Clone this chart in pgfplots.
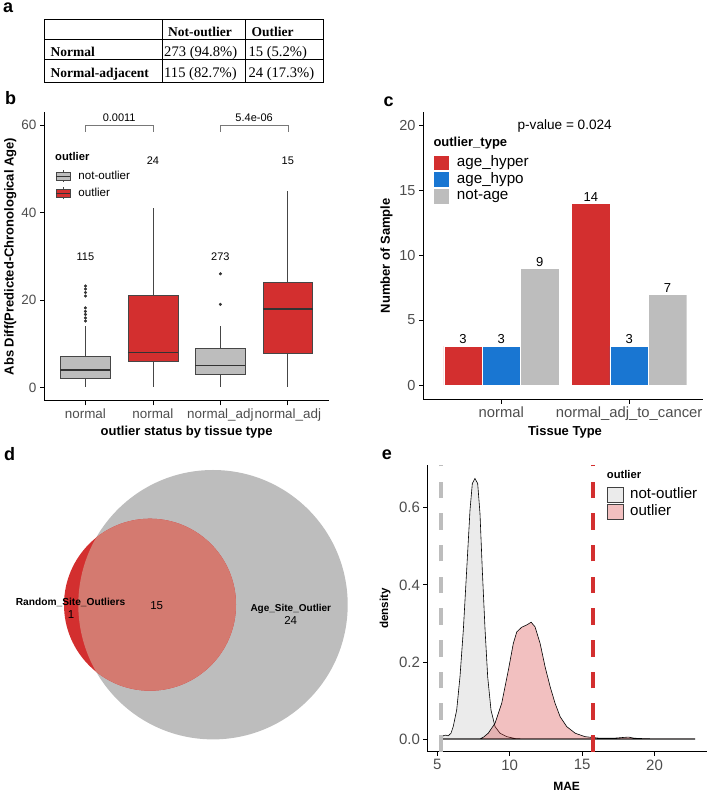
\documentclass[border=0pt]{standalone}
\usepackage{pgfplots}
\pgfplotsset{compat=1.18}
\usepgfplotslibrary{statistics}
\usepackage{fontspec}
\setmainfont{Liberation Sans}
\newfontfamily\tnr{Liberation Serif}
\definecolor{myred}{RGB}{211,47,47}
\definecolor{myblue}{RGB}{25,118,210}
\definecolor{mygray}{RGB}{189,189,189}
\definecolor{tickgray}{RGB}{77,77,77}
\definecolor{boxedge}{RGB}{70,70,70}
\definecolor{salmon}{RGB}{212,122,112}
\definecolor{brk}{RGB}{120,120,120}
\newcommand\fs[1]{\fontsize{#1pt}{#1pt}\selectfont}
\pgfplotsset{gg/.style={
  scale only axis, clip=false,
  axis x line*=bottom, axis y line*=left,
  axis line style={black, line width=1pt},
  tick align=outside, major tick length=4.3pt,
  every tick/.style={black, line width=0.8pt},
  tick label style={text=tickgray},
  /pgf/number format/assume math mode=true,
  label style={font=\fs{13}\bfseries, text=black},
},
boxkey/.style={legend image code/.code={
   \draw[draw=boxedge, line width=0.6pt] (7pt,-6pt)--(7pt,6pt);
   \draw[fill=#1, draw=boxedge, line width=0.6pt] (0pt,-3.8pt) rectangle (14pt,3.8pt);
   \draw[draw=black!80, line width=1.2pt] (0pt,0pt)--(14pt,0pt);}},
ggbox/.style={forget plot, mark=*, mark size=1.35pt, mark options={draw=black!80, fill=black!80}},
/pgfplots/boxplot/every median/.style={draw=black!80, line width=1.6pt},
/pgfplots/boxplot/every whisker/.style={draw=boxedge, line width=0.7pt},
}
\begin{document}
\begin{tikzpicture}
\useasboundingbox (0pt,0pt) rectangle (709pt,792pt);
% ---------------- panel a: table
\draw[line width=0.9pt] (44pt,710pt) rectangle (323pt,773pt);
\draw[line width=0.9pt] (44pt,752.7pt) -- (323pt,752.7pt);
\draw[line width=0.9pt] (44pt,732.7pt) -- (323pt,732.7pt);
\draw[line width=0.9pt] (162pt,710pt) -- (162pt,773pt);
\draw[line width=0.9pt] (245pt,710pt) -- (245pt,773pt);
\begin{scope}[every node/.style={inner sep=0pt, anchor=base west}]
\node[font=\tnr\fs{13.5}\bfseries] at (168pt,755.5pt) {Not-outlier};
\node[font=\tnr\fs{13.5}\bfseries] at (251.5pt,755.5pt) {Outlier};
\node[font=\tnr\fs{13.5}\bfseries] at (50.5pt,735pt) {Normal};
\node[font=\tnr\fs{13.5}\bfseries] at (50.5pt,714.7pt) {Normal-adjacent};
\node[font=\tnr\fs{14.6}] at (164pt,735pt) {273 (94.8\%)};
\node[font=\tnr\fs{14.6}] at (248.3pt,735pt) {15 (5.2\%)};
\node[font=\tnr\fs{14.6}] at (164pt,714.7pt) {115 (82.7\%)};
\node[font=\tnr\fs{14.6}] at (248.3pt,714.7pt) {24 (17.3\%)};
\node[font=\fs{18}\bfseries] at (3pt,779pt) {a};
\node[font=\fs{18}\bfseries] at (5pt,687pt) {b};
\node[font=\fs{18}\bfseries] at (383.3pt,685.3pt) {c};
\node[font=\fs{18}\bfseries] at (4pt,331.3pt) {d};
\node[font=\fs{18}\bfseries] at (381.7pt,332pt) {e};
\node[font=\fs{11.2}\bfseries] at (55pt,631.9pt) {outlier};
\node[font=\fs{13}\bfseries] at (433.3pt,645.3pt) {outlier\_type};
\node[font=\fs{11.2}\bfseries] at (606.7pt,313.7pt) {outlier};
\end{scope}
% ---------------- panel b: boxplots
\begin{axis}[gg, at={(44.3pt,391pt)}, anchor=south west, width=284.7pt, height=289pt,
  xmin=0.39, xmax=4.61, ymin=-3.1, ymax=63,
  xtick={1,2,3,4}, xticklabels={normal,normal,normal\_adj,normal\_adj},
  ytick={0,20,40,60},
  xticklabel style={font=\fs{13.4}}, yticklabel style={font=\fs{13.5}},
  xlabel={outlier status by tissue type},
  ylabel={Abs Diff(Predicted-Chronological Age)},
  xlabel style={at={(axis description cs:0.5,-0.107)}, anchor=center},
  ylabel style={at={(axis description cs:-0.1194,0.5)}, anchor=center},
  legend style={draw=none, fill=none, inner sep=0pt, at={(axis description cs:0.0376,0.8003)}, anchor=north west, font=\fs{11.6}, row sep=4.6pt, nodes={inner sep=0pt, text height=8.5pt, text depth=2.5pt}, /tikz/every odd column/.append style={column sep=8pt}},
  legend cell align=left,
]
\addlegendimage{boxkey=mygray}\addlegendentry{not-outlier}
\addlegendimage{boxkey=myred}\addlegendentry{outlier}
\addplot[ggbox, boxplot prepared={draw direction=y, draw position=1, box extend=0.74, whisker extend=0,
   lower whisker=0, lower quartile=2, median=4, upper quartile=7, upper whisker=14,
   every box/.style={draw=boxedge, fill=mygray, line width=0.7pt}}]
   table[row sep=\\, y index=0]{y\\15.2\\15.9\\16.7\\17.4\\18.2\\20.9\\21.7\\22.5\\23.2\\};
\addplot[ggbox, boxplot prepared={draw direction=y, draw position=2, box extend=0.74, whisker extend=0,
   lower whisker=0, lower quartile=6, median=8, upper quartile=21, upper whisker=41,
   every box/.style={draw=boxedge, fill=myred, line width=0.7pt}}]
   coordinates {};
\addplot[ggbox, boxplot prepared={draw direction=y, draw position=3, box extend=0.74, whisker extend=0,
   lower whisker=0, lower quartile=3, median=5, upper quartile=9, upper whisker=14,
   every box/.style={draw=boxedge, fill=mygray, line width=0.7pt}}]
   table[row sep=\\, y index=0]{y\\19\\26\\};
\addplot[ggbox, boxplot prepared={draw direction=y, draw position=4, box extend=0.74, whisker extend=0,
   lower whisker=0, lower quartile=7.8, median=18, upper quartile=24.1, upper whisker=45,
   every box/.style={draw=boxedge, fill=myred, line width=0.7pt}}]
   coordinates {};
\addplot[forget plot, brk, line width=0.6pt] coordinates {(1,58.5) (1,60) (2,60) (2,58.5)};
\addplot[forget plot, brk, line width=0.6pt] coordinates {(3,58.5) (3,60) (4,60) (4,58.5)};
\node[font=\fs{11}, anchor=base] at (axis cs:1.5,60.75) {0.0011};
\node[font=\fs{11}, anchor=base] at (axis cs:3.5,60.75) {5.4e-06};
\node[font=\fs{11}] at (axis cs:1,30) {115};
\node[font=\fs{11}] at (axis cs:2,51.9) {24};
\node[font=\fs{11}] at (axis cs:3,30) {273};
\node[font=\fs{11}] at (axis cs:4,51.9) {15};
\end{axis}
% ---------------- panel c: bars
\begin{axis}[gg, at={(423.3pt,392.7pt)}, anchor=south west, width=280pt, height=287pt,
  xmin=0.39, xmax=2.58, ymin=-1.1, ymax=21,
  ybar, bar width=0.3,
  xtick={1,2}, xticklabels={normal,normal\_adj\_to\_cancer},
  ytick={0,5,10,15,20},
  xticklabel style={font=\fs{14.8}}, yticklabel style={font=\fs{14.5}},
  xlabel={Tissue Type}, ylabel={Number of Sample},
  xlabel style={at={(axis description cs:0.506,-0.116)}, anchor=center},
  ylabel style={at={(axis description cs:-0.131,0.5)}, anchor=center},
  nodes near coords, nodes near coords style={font=\fs{13}, text=black, inner sep=0pt, anchor=south, yshift=1.8pt},
  legend image code/.code={\path[fill, draw=none] (0pt,-7.35pt) rectangle (15.3pt,7.35pt);},
  legend style={draw=none, fill=none, inner sep=0pt, at={(axis description cs:0.0382,0.8495)}, anchor=north west, font=\fs{15.2}, row sep=1.9pt, nodes={inner sep=0pt, text height=11pt, text depth=3.5pt}, /tikz/every odd column/.append style={column sep=7.4pt}},
  legend cell align=left,
]
\addplot[fill=myred, draw=white, line width=0.3pt, bar shift=-0.3] coordinates {(1,3) (2,14)};
\addlegendentry{age\_hyper}
\addplot[fill=myblue, draw=white, line width=0.3pt, bar shift=0] coordinates {(1,3) (2,3)};
\addlegendentry{age\_hypo}
\addplot[fill=mygray, draw=white, line width=0.3pt, bar shift=0.3] coordinates {(1,9) (2,7)};
\addlegendentry{not-age}
\node[font=\fs{13.6}, anchor=base] at (axis cs:1.496,19.7) {p-value = 0.024};
\end{axis}
% ---------------- panel d: venn
\begin{axis}[at={(0pt,0pt)}, anchor=south west, scale only axis, width=360pt, height=352pt,
  xmin=0, xmax=360, ymin=0, ymax=352, hide axis, clip=false]
\fill[mygray] (axis cs:213,187.3) circle[radius=134.7pt];
\fill[myred] (axis cs:150,187.3) circle[radius=86pt];
\begin{scope}
\clip (axis cs:213,187.3) circle[radius=134.7pt];
\fill[salmon] (axis cs:150,187.3) circle[radius=86pt];
\end{scope}
\node[font=\fs{10.2}\bfseries, anchor=base, inner sep=0pt] at (axis cs:70.5,186) {Random\_Site\_Outliers};
\node[font=\fs{11.5}, anchor=base, inner sep=0pt] at (axis cs:71,173) {1};
\node[font=\fs{11.5}, anchor=base, inner sep=0pt] at (axis cs:156.7,182) {15};
\node[font=\fs{10}\bfseries, anchor=base, inner sep=0pt] at (axis cs:290.8,180) {Age\_Site\_Outlier};
\node[font=\fs{11.5}, anchor=base, inner sep=0pt] at (axis cs:290.7,167) {24};
\end{axis}
% ---------------- panel e: densities
\begin{axis}[gg, at={(427.7pt,40.3pt)}, anchor=south west, width=279pt, height=286.7pt,
  xmin=4.34, xmax=23.6, ymin=-0.033, ymax=0.711,
  xtick={5,10,15,20}, ytick={0,0.2,0.4,0.6},
  yticklabel style={font=\fs{15}, /pgf/number format/.cd, fixed, fixed zerofill, precision=1},
  xticklabel style={font=\fs{15}},
  xlabel={MAE}, ylabel={density},
  xlabel style={font=\fs{12}\bfseries, at={(axis description cs:0.498,-0.12)}, anchor=center},
  ylabel style={font=\fs{11.6}\bfseries, at={(axis description cs:-0.153,0.5)}, anchor=center},
  legend image code/.code={\draw[fill, draw=black!75, line width=0.6pt] (0pt,-7.5pt) rectangle (15.6pt,7.5pt);},
  legend style={draw=none, fill=none, inner sep=0pt, at={(axis description cs:0.6416,0.9243)}, anchor=north west, font=\fs{15.1}, row sep=1.7pt, nodes={inner sep=0pt, text height=11pt, text depth=3.5pt}, /tikz/every odd column/.append style={column sep=7pt}},
  legend cell align=left,
]
\addplot[fill=mygray, fill opacity=0.3, draw=black, line width=0.6pt] coordinates {
(5.25,0) (5.30,0.005) (5.45,0.009) (5.6,0.010) (5.75,0.008) (5.95,0.015) (6.1,0.032) (6.34,0.075) (6.57,0.162)
(6.8,0.283) (7.03,0.438) (7.26,0.594) (7.42,0.663) (7.6,0.676) (7.79,0.663) (7.95,0.585)
(8.11,0.438) (8.3,0.283) (8.48,0.162) (8.71,0.075) (8.99,0.032) (9.33,0.015) (9.8,0.006)
(10.4,0.001) (11,0) (22.8,0)} \closedcycle;
\addlegendentry{not-outlier}
\addplot[fill=myred, fill opacity=0.3, draw=black, line width=0.6pt] coordinates {
(5.25,0) (7.95,0) (8.2,0.005) (8.52,0.015) (8.99,0.041) (9.45,0.093) (9.91,0.179) (10.25,0.248)
(10.49,0.278) (10.83,0.29) (11.18,0.296) (11.48,0.303) (11.75,0.291) (12.1,0.248)
(12.44,0.188) (12.79,0.136) (13.13,0.093) (13.48,0.058) (13.94,0.032) (14.52,0.015)
(15.2,0.006) (16.2,0.002) (17.2,0.002) (17.85,0.004) (18.2,0.005) (18.6,0.002) (19.5,0.0005) (22.8,0)} \closedcycle;
\addlegendentry{outlier}
\addplot[forget plot, mygray, line width=4pt, dash pattern=on 16.5pt off 15.2pt] coordinates {(5.23,-0.033) (5.23,0.711)};
\addplot[forget plot, myred, line width=4pt, dash pattern=on 16.5pt off 15.2pt] coordinates {(15.78,-0.033) (15.78,0.711)};
\end{axis}
\end{tikzpicture}
\end{document}
